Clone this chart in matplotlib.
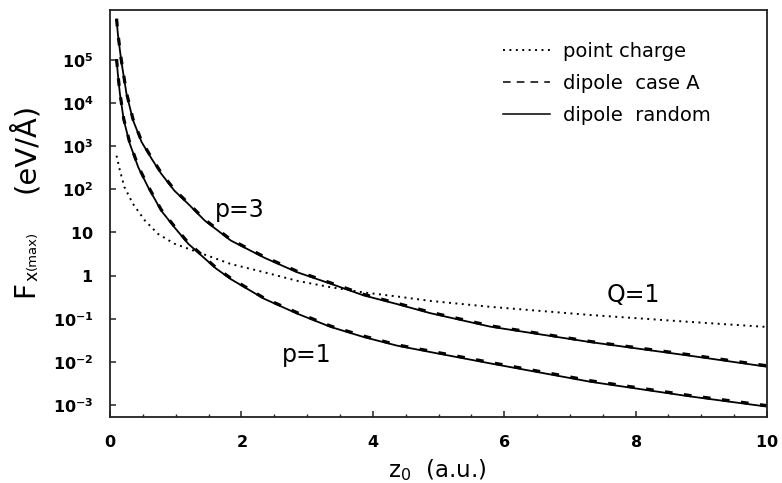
import matplotlib
matplotlib.use("Agg")
import matplotlib.pyplot as plt

plt.rcParams['font.family'] = ['DejaVu Sans']
plt.rcParams['mathtext.fontset'] = 'custom'
plt.rcParams['mathtext.rm'] = 'DejaVu Sans'
plt.rcParams['mathtext.it'] = 'DejaVu Sans'
plt.rcParams['mathtext.bf'] = 'DejaVu Sans:bold'

# p=3 dipole
z3 = [0.1, 0.12, 0.17, 0.25, 0.35, 0.48, 0.63, 0.78, 0.98, 1.19, 1.44, 1.84, 2.35, 2.85, 3.36, 3.86, 4.37, 4.88, 5.79, 7.31, 8.83, 10]
f3_rand = [8.5e5, 3.9e5, 9.8e4, 1.66e4, 4.0e3, 1.25e3, 520, 229, 93, 46, 19, 6.5, 2.6, 1.2, 0.65, 0.35, 0.22, 0.135, 0.066, 0.029, 0.014, 0.0078]
f3_caseA = [8.9e5, 4.1e5, 1.03e5, 1.74e4, 4.2e3, 1.31e3, 546, 240, 98, 48, 20, 6.8, 2.73, 1.26, 0.68, 0.37, 0.23, 0.142, 0.069, 0.030, 0.0147, 0.0082]

# p=1 dipole
z1 = [0.1, 0.12, 0.15, 0.21, 0.30, 0.43, 0.58, 0.78, 0.98, 1.19, 1.61, 1.84, 2.35, 2.85, 3.36, 3.86, 4.37, 4.88, 5.79, 7.31, 8.83, 10]
f1_rand = [9.8e4, 4.6e4, 1.66e4, 4.0e3, 1.15e3, 324, 112, 32, 13.2, 5.5, 1.48, 0.83, 0.29, 0.132, 0.065, 0.038, 0.024, 0.017, 0.0093, 0.0035, 0.0016, 0.00093]
f1_caseA = [1.03e5, 4.8e4, 1.74e4, 4.2e3, 1.21e3, 340, 118, 33.6, 13.9, 5.8, 1.55, 0.87, 0.30, 0.139, 0.068, 0.040, 0.025, 0.0179, 0.0098, 0.0037, 0.00168, 0.00098]

# point charge Q=1
zq = [0.1, 0.15, 0.22, 0.35, 0.53, 0.73, 0.98, 1.46, 1.84, 2.35, 2.85, 3.36, 3.86, 4.37, 4.88, 5.79, 7.31, 8.83, 10]
fq = [600, 275, 112, 46, 19, 9.3, 5.5, 3.0, 1.86, 1.2, 0.76, 0.54, 0.41, 0.33, 0.26, 0.19, 0.123, 0.085, 0.065]

yticks = [1e-3, 1e-2, 1e-1, 1, 10, 1e2, 1e3, 1e4, 1e5]
ylabels = [r'$\mathbf{10^{-3}}$', r'$\mathbf{10^{-2}}$', r'$\mathbf{10^{-1}}$', r'$\mathbf{1}$', r'$\mathbf{10}$',
           r'$\mathbf{10^{2}}$', r'$\mathbf{10^{3}}$', r'$\mathbf{10^{4}}$', r'$\mathbf{10^{5}}$']
xticks = [0, 2, 4, 6, 8, 10]

fig = plt.figure(figsize=(7.82, 4.83), dpi=100)
ax = fig.add_axes([110/782, 1-416.7/483, 657/782, 407.2/483])

ax.plot(zq, fq, color='k', lw=1.4, linestyle=(0, (1, 2.3)), label='point charge')
ax.plot(z3, f3_rand, color='k', lw=1.3, label='_nolegend_')
ax.plot(z1, f1_rand, color='k', lw=1.3, label='_nolegend_')
ax.plot(z3, f3_caseA, color='k', lw=2.3, linestyle=(0, (2.4, 3.6)), label='_nolegend_')
ax.plot(z1, f1_caseA, color='k', lw=2.3, linestyle=(0, (2.4, 3.6)), label='_nolegend_')
# legend proxies
ax.plot([], [], color='k', lw=1.1, linestyle=(0, (5, 4)), label='dipole  case A')
ax.plot([], [], color='k', lw=1.1, label='dipole  random')

ax.set_yscale('log')
ax.set_xlim(0, 10)
ax.set_ylim(10**-3.265, 10**6.163)
ax.set_yticks(yticks)
ax.set_yticklabels(ylabels)
ax.yaxis.set_minor_locator(matplotlib.ticker.NullLocator())
ax.set_xticks(xticks)
ax.set_xticklabels([r'$\mathbf{%d}$' % v for v in xticks])
ax.xaxis.set_minor_locator(matplotlib.ticker.MultipleLocator(0.5))
ax.tick_params(which='both', direction='in', colors='#222222', labelcolor='k', labelsize=11.5)
ax.tick_params(which='major', length=4, width=1.1)
ax.tick_params(axis='y', pad=12)
ax.tick_params(axis='x', pad=12.3)
ax.tick_params(which='minor', length=2.5, width=1.0)
for s in ax.spines.values():
    s.set_linewidth(1.3)
    s.set_color('#222222')

leg = ax.legend(loc='upper left', bbox_to_anchor=(503/782, 1-42/483), bbox_transform=fig.transFigure,
                frameon=False, fontsize=14, handlelength=2.4, handletextpad=0.67,
                labelspacing=0.66, borderpad=0, borderaxespad=0)

ax.text(215/782, 1-217/483, 'p=3', transform=fig.transFigure, fontsize=17)
ax.text(282/782, 1-362/483, 'p=1', transform=fig.transFigure, fontsize=17)
ax.text(607/782, 1-302/483, 'Q=1', transform=fig.transFigure, fontsize=17)

# axis labels
fig.text(388/782, 1-476.7/483, r'z$_0$  (a.u.)', fontsize=16.5, ha='left', va='baseline')
fig.text(33/782, 1-297/483, 'F', fontsize=20, rotation=90, rotation_mode='anchor', ha='left', va='baseline')
fig.text(37/782, 1-281/483, 'x', fontsize=12.5, rotation=90, rotation_mode='anchor', ha='left', va='baseline')
fig.text(36/782, 1-270/483, '(max)', fontsize=9.5, rotation=90, rotation_mode='anchor', ha='left', va='baseline')
fig.text(34/782, 1-193/483, '(eV/Å)', fontsize=21, rotation=90, rotation_mode='anchor', ha='left', va='baseline')

fig.savefig('out.png', dpi=100)
